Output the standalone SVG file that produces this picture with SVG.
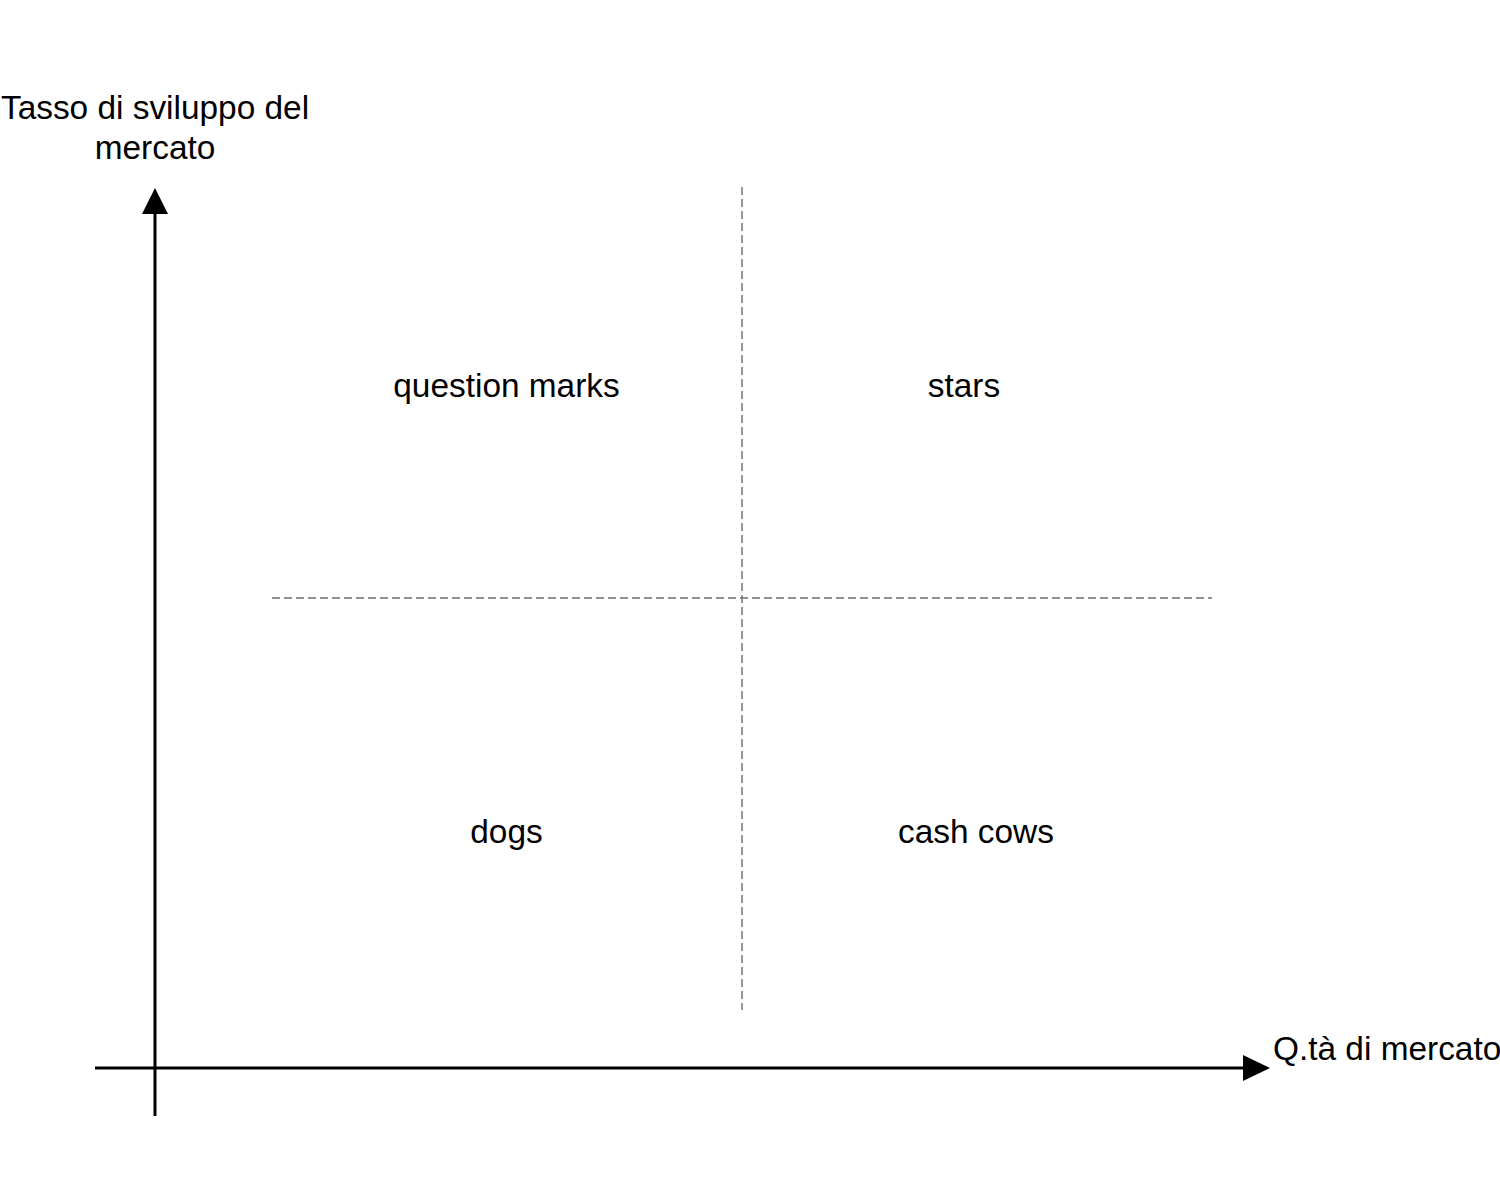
<svg xmlns="http://www.w3.org/2000/svg" width="1500" height="1200" viewBox="0 0 1500 1200">
<style>
text{font-family:"Liberation Sans",Arial,sans-serif;font-size:33.4px;fill:#000}
.axis{stroke:#000;stroke-width:3;fill:none}
.head{fill:#000}
.dash{stroke:#6e6e6e;stroke-width:1.4;stroke-dasharray:8 4;fill:none}
</style>
<rect width="1500" height="1200" fill="#fff"/>
<g id="connectors">
<line class="dash" x1="272" y1="598" x2="1212" y2="598"/>
<line class="dash" x1="742" y1="187" x2="742" y2="1010"/>
<line class="axis" x1="155" y1="1116" x2="155" y2="212"/>
<polygon class="head" points="155,188 168,214 142,214"/>
<line class="axis" x1="95" y1="1068" x2="1245" y2="1068"/>
<polygon class="head" points="1270,1068 1243,1055 1243,1081"/>
</g>
<g id="y-label"><text x="155" y="119" text-anchor="middle">Tasso di sviluppo del</text><text x="155" y="159" text-anchor="middle">mercato</text></g>
<g id="x-label"><text x="1273" y="1060">Q.tà di mercato</text></g>
<g id="question-marks"><text x="506.5" y="397" text-anchor="middle">question marks</text></g>
<g id="stars"><text x="964" y="397" text-anchor="middle">stars</text></g>
<g id="dogs"><text x="506.5" y="843" text-anchor="middle">dogs</text></g>
<g id="cash-cows"><text x="976" y="843" text-anchor="middle">cash cows</text></g>
</svg>
